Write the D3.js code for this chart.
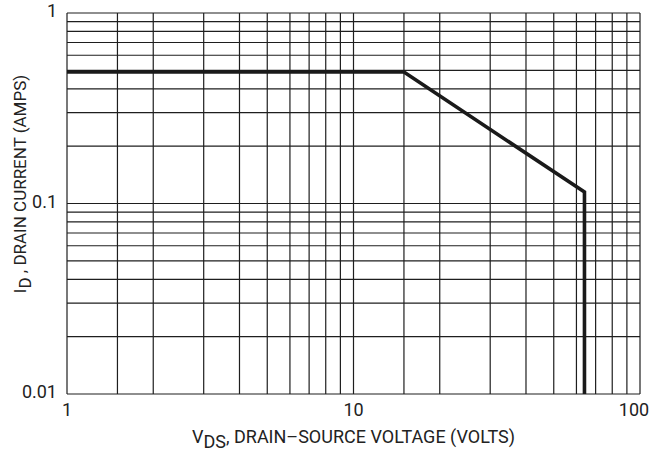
<!DOCTYPE html>
<html>
<head>
<meta charset="utf-8">
<style>
    body { margin: 0; background: #fff; }
    text { font-family: "Liberation Sans Narrow", "Arial Narrow", Roboto, sans-serif; fill: #222; }
</style>
</head>
<body>
<svg></svg>
<script src="https://d3js.org/d3.v7.min.js"></script>
<script>
    // safe operating area curve (VDS volts, ID amps)
    let curveV = [1, 15, 64, 64];
    let curveI = [0.49, 0.49, 0.1148, 0.01];

    // grid positions
    let xGrid = [1, 1.5, 2, 3, 4, 5, 6, 7, 8, 9, 10, 15, 20, 30, 40, 50, 60, 70, 80, 90, 100];
    let yGrid = [0.01, 0.02, 0.03, 0.04, 0.05, 0.06, 0.07, 0.08, 0.09,
                 0.1, 0.2, 0.3, 0.4, 0.5, 0.6, 0.7, 0.8, 0.9, 1];

    let xTicks = [1, 10, 100],
        xTickLabels = ["1", "10", "100"];
    let yTicks = [0.01, 0.1, 1],
        yTickLabels = ["0.01", "0.1", "1"];

    let width = 665,
        height = 455;
    let margin = {top: 13, right: 25, bottom: 61, left: 67};

    let svg = d3.select("svg")
        .attr("width", width)
        .attr("height", height);

    let x = d3.scaleLog().domain([1, 100]).range([margin.left, width - margin.right]);
    let y = d3.scaleLog().domain([0.01, 1]).range([height - margin.bottom, margin.top]);

    let gridG = svg.append("g")
        .attr("stroke", "#1e1e1e")
        .attr("stroke-width", 1.2);

    gridG.selectAll(".vgrid")
        .data(xGrid)
        .enter().append("line")
        .attr("x1", d => x(d)).attr("x2", d => x(d))
        .attr("y1", y(1)).attr("y2", y(0.01));

    gridG.selectAll(".hgrid")
        .data(yGrid)
        .enter().append("line")
        .attr("x1", x(1)).attr("x2", x(100))
        .attr("y1", d => y(d)).attr("y2", d => y(d));

    // the limit curve
    let pts = curveV.map((v, i) => [v, curveI[i]]);
    svg.append("path")
        .datum(pts)
        .attr("fill", "none")
        .attr("stroke", "#1a1a1a")
        .attr("stroke-width", 3.6)
        .attr("stroke-linejoin", "miter")
        .attr("d", d3.line().x(d => x(d[0])).y(d => y(d[1])));

    // tick labels
    svg.selectAll(".xlab")
        .data(xTicks)
        .enter().append("text")
        .attr("x", (d, i) => x(d) - (i === 2 ? 6 : 0))
        .attr("y", y(0.01) + 22)
        .attr("text-anchor", "middle")
        .style("font-size", "18px")
        .text((d, i) => xTickLabels[i]);

    svg.selectAll(".ylab")
        .data(yTicks)
        .enter().append("text")
        .attr("x", margin.left - 10)
        .attr("y", d => y(d) + 4)
        .attr("text-anchor", "end")
        .style("font-size", "18px")
        .text((d, i) => yTickLabels[i]);

    // axis titles
    let xt = svg.append("text")
        .attr("x", (x(1) + x(100)) / 2)
        .attr("y", 443)
        .attr("text-anchor", "middle")
        .style("font-size", "18px");
    xt.append("tspan").text("V");
    xt.append("tspan").attr("dy", 5).text("DS");
    xt.append("tspan").attr("dy", -5).text(", DRAIN\u2013SOURCE VOLTAGE (VOLTS)");

    let yt = svg.append("text")
        .attr("transform", "translate(26," + 184 + ") rotate(-90)")
        .attr("text-anchor", "middle")
        .style("font-size", "17px");
    yt.append("tspan").text("I");
    yt.append("tspan").attr("dy", 5).text("D");
    yt.append("tspan").attr("dy", -5).text(" , DRAIN CURRENT (AMPS)");
</script>
</body>
</html>
